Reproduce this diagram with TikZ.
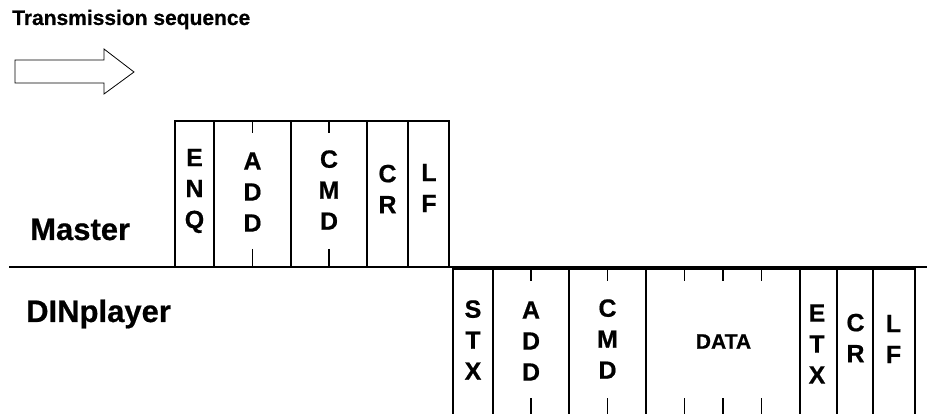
\documentclass[tikz,border=0pt]{standalone}
\usepackage{fontspec}
\setmainfont{Liberation Sans}[BoldFeatures={FakeBold=0.6}]
\begin{document}
\begin{tikzpicture}[x=1pt,y=-1pt,
  frame/.style={line width=1.2pt},
  tickmark/.style={line width=1.2pt},
  stack/.style={align=center,inner sep=0pt,font=\fontsize{25}{31}\selectfont\bfseries},
  biglabel/.style={anchor=base west,inner sep=0pt,font=\fontsize{31}{36}\selectfont\bfseries}]
\useasboundingbox (0,0) rectangle (927,414);
% title and arrow
\node[anchor=base west,inner sep=0pt,font=\fontsize{21}{25}\selectfont\bfseries] (title) at (12,25) {Transmission sequence};
\draw[line width=0.8pt] (15,60) -- (104,60) -- (104,49) -- (134,72) -- (104,94) -- (104,83) -- (15,83) -- cycle;
% labels
\node[biglabel] (master) at (30,240) {Master};
\node[biglabel] (din) at (26,322) {DINplayer};
% main line
\draw[line width=1.5pt] (9,267) -- (927,267);
% master frame
\draw[frame] (175,267) -- (175,121) -- (449,121) -- (449,267);
\foreach \x in {214,291,367,408} \draw[frame] (\x,121) -- (\x,267);
\foreach \x in {252.5,329} {\draw[tickmark] (\x,121) -- (\x,133); \draw[tickmark] (\x,249) -- (\x,267);}
\node[stack] (menq) at (194.5,191) {E\\N\\Q};
\node[stack] (madd) at (252.5,192) {A\\D\\D};
\node[stack] (mcmd) at (329,190) {C\\M\\D};
\node[stack] (mcr) at (387.5,189) {C\\R};
\node[stack] (mlf) at (429,188) {L\\F};
% DINplayer frame
\draw[frame] (453,416) -- (453,269) -- (915,269) -- (915,416);
\foreach \x in {493,569,646,800,837,873} \draw[frame] (\x,269) -- (\x,416);
\foreach \x in {531,607.5,684.5,723,761.5} {\draw[tickmark] (\x,269) -- (\x,281); \draw[tickmark] (\x,398) -- (\x,416);}
\node[stack] (dstx) at (473,340) {S\\T\\X};
\node[stack] (dadd) at (531,341) {A\\D\\D};
\node[stack] (dcmd) at (607.5,339) {C\\M\\D};
\node[inner sep=0pt,font=\fontsize{21}{25}\selectfont\bfseries] (ddata) at (723.5,341.5) {DATA};
\node[stack] (detx) at (817,344) {E\\T\\X};
\node[stack] (dcr) at (855.5,338) {C\\R};
\node[stack] (dlf) at (893.5,339) {L\\F};
\end{tikzpicture}
\end{document}
